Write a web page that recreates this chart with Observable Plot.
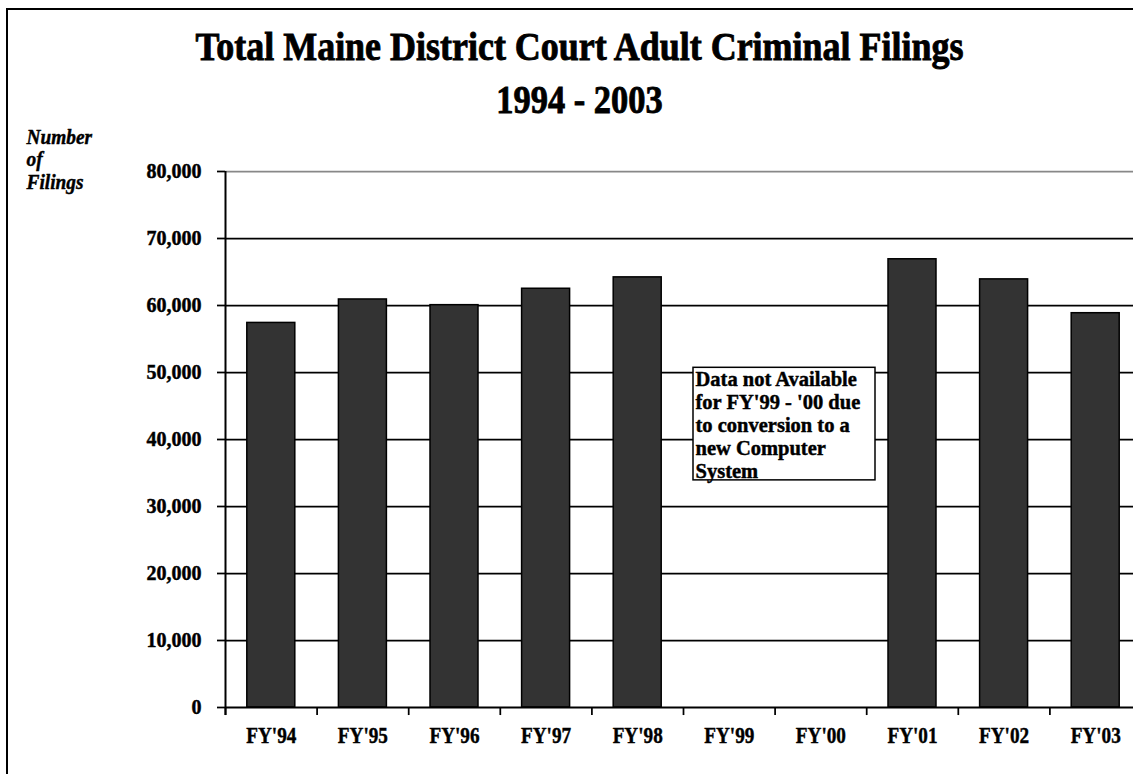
<!DOCTYPE html>
<html><head><meta charset="utf-8">
<script src="https://cdn.jsdelivr.net/npm/d3@7"></script>
<script src="https://cdn.jsdelivr.net/npm/@observablehq/plot@0.6"></script>
<style>
html,body{margin:0;padding:0;background:#fff;overflow:hidden;width:1133px;height:774px;}
#frame{position:absolute;left:6px;top:8px;width:2000px;height:2000px;border-left:2px solid #000;border-top:2px solid #000;box-sizing:border-box;z-index:5;pointer-events:none;}
#wrap{position:absolute;left:0;top:0;width:1133px;}
#title{height:120px;box-sizing:border-box;padding-top:20px;padding-left:26px;font-family:"Liberation Serif","Times New Roman",serif;font-weight:bold;font-size:41px;line-height:53px;text-align:center;color:#000;-webkit-text-stroke:0.9px #000;}
#title div{transform-origin:center;white-space:nowrap;}
#chart svg{display:block;}
#chart svg text{stroke:#000;stroke-width:0.45px;}
</style></head>
<body>
<div id="wrap">
  <div id="title"><div id="t1" style="transform:scaleX(0.877)"></div><div id="t2" style="transform:scaleX(0.84)"></div></div>
  <div id="chart"></div>
</div>
<div id="frame"></div>
<script>
const years = ["FY'94","FY'95","FY'96","FY'97","FY'98","FY'99","FY'00","FY'01","FY'02","FY'03"];
const filings = [57400, 60900, 60050, 62500, 64200, null, null, 66900, 63900, 58850];
const yTicks = [0, 10000, 20000, 30000, 40000, 50000, 60000, 70000, 80000];
const titleLines = ["Total Maine District Court Adult Criminal Filings", "1994 - 2003"];
const yLabel = "Number\nof\nFilings";
const noteText = "Data not Available\nfor FY'99 - '00 due\nto conversion to a\nnew Computer\nSystem";
const noteYear = "FY'99";
const noteTop = 50700;
const noteBottom = 33900;

document.getElementById("t1").textContent = titleLines[0];
document.getElementById("t2").textContent = titleLines[1];

const data = years.map((year, i) => ({year, value: filings[i]})).filter(d => d.value != null);

const width = 1133, height = 654, marginLeft = 225, marginRight = -8, marginTop = 51, marginBottom = 67;
const step = (width - marginLeft - marginRight) / years.length;
const font = `"Liberation Serif", "Times New Roman", serif`;

const plot = Plot.plot({
  width, height, marginLeft, marginRight, marginTop, marginBottom,
  style: {fontFamily: font, fontWeight: "bold", color: "#000", background: "transparent"},
  x: {domain: years, paddingInner: 0.476, paddingOuter: 0.238, round: false},
  y: {domain: [0, 80000]},
  marks: [
    Plot.ruleY(yTicks.filter(d => d > 0 && d < 80000), {stroke: "#000", strokeWidth: 1.75}),
    Plot.ruleY([80000], {stroke: "#888", strokeWidth: 1.75}),
    Plot.barY(data, {x: "year", y: "value", fill: "#333333", stroke: "#000", strokeWidth: 1.5}),
    Plot.barY([{year: noteYear, top: noteTop, bottom: noteBottom}], {x: "year", y1: "bottom", y2: "top", fill: "#fff", stroke: "#000", strokeWidth: 1.5, insetLeft: -11.8, insetRight: -122.2}),
    Plot.text([{year: noteYear, top: noteTop, text: noteText}], {x: "year", y: "top", text: "text", textAnchor: "start", lineAnchor: "top", dx: -step / 2 + 12, dy: 2, fontSize: 20.5, lineHeight: 1.12}),
    Plot.ruleY([0], {stroke: "#000", strokeWidth: 2}),
    Plot.ruleX(years, {x: d => d, y1: 0, y2: -1200, dx: -step / 2, stroke: "#000", strokeWidth: 1.75}),
    Plot.ruleX([years[0]], {x: d => d, y1: -1200, y2: 80000, dx: -step / 2, stroke: "#000", strokeWidth: 2}),
    Plot.axisY({ticks: yTicks, tickSize: 8, tickPadding: 16, tickFormat: d3.format(","), fontSize: 20, fontWeight: "bold", strokeWidth: 1.75, label: null}),
    Plot.axisX({tickSize: 0, tickPadding: 18, fontSize: 24, fontWeight: "bold", label: null}),
    Plot.text([yLabel], {frameAnchor: "top-left", text: d => d, textAnchor: "start", lineAnchor: "top", dx: -199, dy: -43.6, fontSize: 22, fontStyle: "italic", lineHeight: 1.02})
  ]
});

function squeeze(test, k) {
  plot.querySelectorAll("text").forEach(t => {
    if (!test(t)) return;
    const tr = t.getAttribute("transform") || "";
    t.setAttribute("transform", tr + ` scale(${k},1)`);
  });
}
squeeze(t => years.includes(t.textContent), 0.8);
squeeze(t => t.textContent.startsWith("Number"), 0.88);

document.getElementById("chart").appendChild(plot);
</script>
</body></html>
